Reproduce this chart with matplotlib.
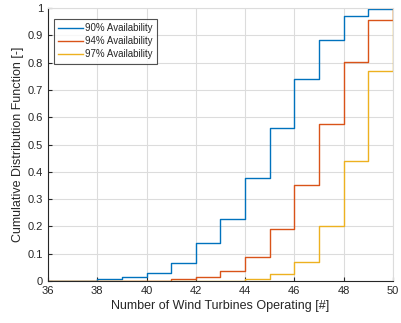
import matplotlib.pyplot as plt
import numpy as np

plt.rcParams['font.family'] = ['Liberation Sans', 'DejaVu Sans']

# number of turbines operating (step edges)
turbines = np.arange(36, 51)

# cumulative distribution values at each turbine count
cdf_90 = [0.0, 0.001, 0.006, 0.016, 0.030, 0.065, 0.138, 0.228, 0.377,
          0.562, 0.739, 0.884, 0.972, 0.995, 1.0]
cdf_94 = [0.0, 0.0, 0.0, 0.0, 0.001, 0.006, 0.016, 0.038, 0.088,
          0.189, 0.352, 0.574, 0.803, 0.958, 1.0]
cdf_97 = [0.0, 0.0, 0.0, 0.0, 0.0, 0.0, 0.0, 0.0005, 0.006,
          0.027, 0.070, 0.200, 0.441, 0.770, 1.0]

labels = ['90% Availability', '94% Availability', '97% Availability']
colors = ['#0072BD', '#D95319', '#EDB120']

fig = plt.figure(figsize=(4.01, 3.23), dpi=100)
ax = fig.add_axes([0.1197, 0.130, 0.8603, 0.845])

for vals, lab, col in zip([cdf_90, cdf_94, cdf_97], labels, colors):
    ax.step(turbines, vals, where='post', color=col, linewidth=1.0, label=lab)

ax.set_xlim(36, 50)
ax.set_ylim(0, 1)
ax.set_xticks(np.arange(36, 51, 2))
yt = np.round(np.arange(0, 1.01, 0.1), 1)
ax.set_yticks(yt)
ax.set_yticklabels(['0' if v == 0 else ('1' if v == 1 else f'{v:g}') for v in yt])

ax.grid(True, color='#dcdcdc', linewidth=0.8)
ax.set_axisbelow(True)
for side in ['top', 'right']:
    ax.spines[side].set_color('#dcdcdc')
for side in ['left', 'bottom']:
    ax.spines[side].set_color('#262626')
    ax.spines[side].set_linewidth(0.8)

ax.tick_params(direction='in', length=3, width=0.8, colors='#262626',
               labelsize=8, top=False, right=False)

ax.set_xlabel('Number of Wind Turbines Operating [#]', fontsize=9, color='#262626', labelpad=3)
ax.set_ylabel('Cumulative Distribution Function [-]', fontsize=9, color='#262626', labelpad=3)

leg = ax.legend(loc='upper left', bbox_to_anchor=(0.017, 0.96), fontsize=7,
                frameon=True, fancybox=False, handlelength=2.5, handletextpad=0.3,
                borderpad=0.45, labelspacing=0.3, borderaxespad=0.0)
leg.get_frame().set_edgecolor('#262626')
leg.get_frame().set_linewidth(0.8)
for t in leg.get_texts():
    t.set_color('#262626')

plt.savefig('out.png', dpi=100)
plt.close()
